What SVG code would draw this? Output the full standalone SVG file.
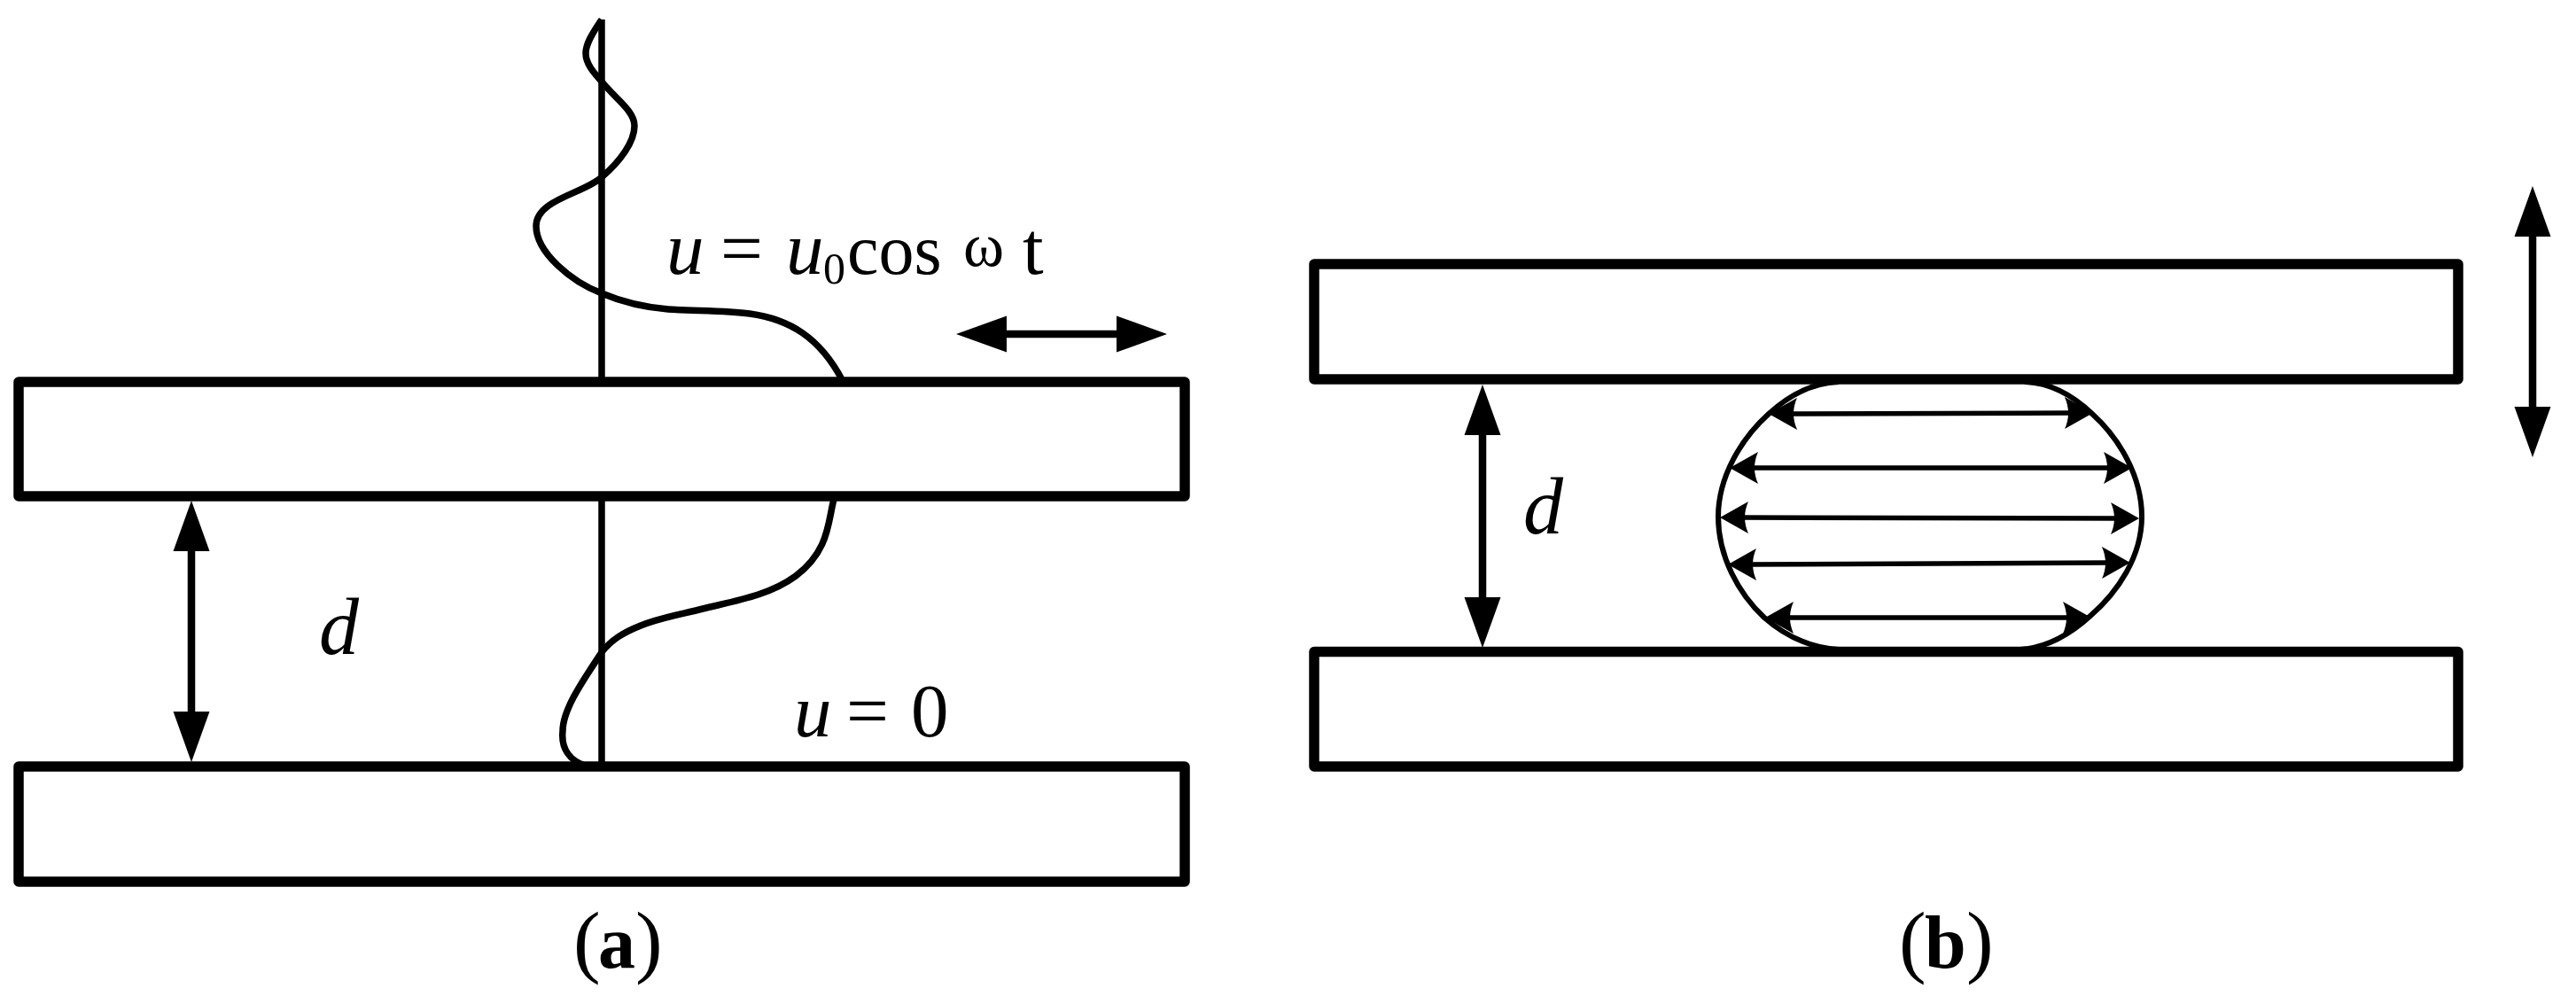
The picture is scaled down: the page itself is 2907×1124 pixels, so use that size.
<svg xmlns="http://www.w3.org/2000/svg" width="2907" height="1124" viewBox="0 0 2907 1124">
<style>
.plate{fill:#fff;stroke:#000;stroke-width:11.500;stroke-linejoin:round}
.wave{fill:none;stroke:#000;stroke-width:7.500}
.axis{fill:none;stroke:#000;stroke-width:7.500}
.big{stroke:#000;stroke-width:8.500;fill:none;marker-start:url(#bigHead);marker-end:url(#bigHead)}
.small{stroke:#000;stroke-width:5.500;fill:none;marker-start:url(#smallHead);marker-end:url(#smallHead)}
.drop{fill:none;stroke:#000;stroke-width:6}
text{font-family:"Liberation Serif","Times New Roman",serif;font-size:85px;fill:#000}
.i{font-style:italic}
.b{font-weight:bold}
</style>
<defs>
<marker id="bigHead" markerUnits="userSpaceOnUse" markerWidth="60" markerHeight="42" refX="10" refY="21" orient="auto-start-reverse"><path d="M0 0.500L57 21L0 41.500Z" fill="#000"/></marker>
<marker id="smallHead" markerUnits="userSpaceOnUse" markerWidth="36" markerHeight="38" refX="10" refY="19" orient="auto-start-reverse"><path d="M0 1L32 19L0 37Q8 19 0 1Z" fill="#000"/></marker>
</defs>
<rect width="2907" height="1124" fill="#fff"/>

<g id="panel-a-profile">
<path class="axis" d="M679 22V430M679 560V864"/>
<path class="wave" d="M679 22C668 38 661 50 661 60C661 72 670 82 679 92C695 112 716 125 716 142C716 160 700 182 679 200C660 218 605 225 605 255C605 285 645 318 679 331C705 342 730 347 754 349C785 351 820 350 846 354C890 360 925 380 951 430"/>
<path class="wave" d="M942 560C934 585 938 620 898 650C868 672 830 678 793 687C770 693 745 697 723 706C703 714 690 722 679 736C660 765 635 800 635 825C633 845 643 858 660 864"/>
</g>

<g id="panel-b-droplet">
<path class="drop" d="M2075 431C2045 432 2020 445 1996 467C1965 495 1939 538 1939 583C1939 628 1962 670 1991 697C2015 718 2042 731 2075 733"/>
<path class="drop" d="M2285 431C2315 432 2340 447 2361 467C2392 495 2417 538 2417 583C2417 628 2390 668 2359 695C2336 716 2310 731 2280 733"/>
</g>

<g id="panel-a-top-plate"><rect class="plate" x="21" y="431" width="1316" height="129"/></g>
<g id="panel-a-bottom-plate"><rect class="plate" x="21" y="865" width="1316" height="130"/></g>
<g id="panel-b-top-plate"><rect class="plate" x="1483" y="298" width="1291" height="130"/></g>
<g id="panel-b-bottom-plate"><rect class="plate" x="1483" y="735.500" width="1291" height="129.500"/></g>

<g id="connectors">
<line class="big" x1="1126" y1="377" x2="1270" y2="377"/>
<line class="big" x1="216" y1="612" x2="216" y2="813"/>
<line class="big" x1="1673" y1="481" x2="1673" y2="684"/>
<line class="big" x1="2858" y1="257" x2="2858" y2="469"/>
<line class="small" x1="2018" y1="467" x2="2340" y2="466"/>
<line class="small" x1="1974" y1="528" x2="2384" y2="528"/>
<line class="small" x1="1963" y1="584" x2="2392" y2="585"/>
<line class="small" x1="1972" y1="637" x2="2382" y2="635"/>
<line class="small" x1="2014" y1="697" x2="2338" y2="697"/>
</g>

<g id="labels">
<text y="309"><tspan class="i" x="752">u</tspan><tspan x="813">=</tspan><tspan class="i" x="887">u</tspan><tspan x="929" y="320" style="font-size:50px">0</tspan><tspan x="956" y="309" style="font-size:80px">cos</tspan><tspan x="1087" y="300" style="font-size:70px">ω</tspan><tspan x="1154" y="309">t</tspan></text>
<text y="831"><tspan class="i" x="896">u</tspan><tspan x="955">=</tspan><tspan x="1028">0</tspan></text>
<text class="i" style="font-size:90px" x="360" y="738">d</text>
<text class="i" style="font-size:90px" x="1719" y="602">d</text>
<text y="1092" style="font-size:92px"><tspan x="647">(</tspan><tspan class="b" x="675" style="font-size:84px">a</tspan><tspan x="717">)</tspan></text>
<text y="1092" style="font-size:92px"><tspan x="2143">(</tspan><tspan class="b" x="2172" style="font-size:84px">b</tspan><tspan x="2219">)</tspan></text>
</g>
</svg>
